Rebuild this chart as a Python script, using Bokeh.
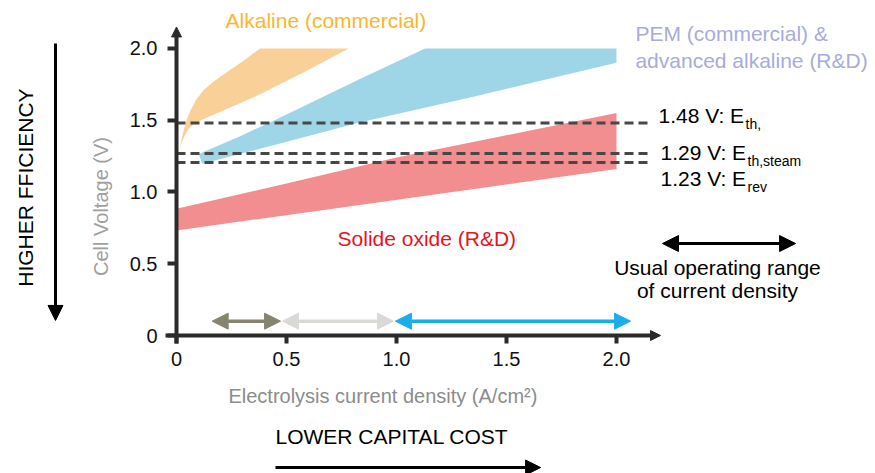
from math import pi
from bokeh.plotting import figure
from bokeh.models import Label, Arrow, NormalHead, FixedTicker, Range1d
from bokeh.embed import file_html
from bokeh.resources import INLINE

FONT = "Liberation Sans"

# ---------------- data ----------------
x_ticks = [0, 0.5, 1, 1.5, 2]
x_tick_labels = ["0", "0.5", "1.0", "1.5", "2.0"]
y_ticks = [0, 0.5, 1, 1.5, 2]
y_tick_labels = ["0", "0.5", "1.0", "1.5", "2.0"]

# Alkaline (commercial) band
alk_upper_x = [0.011, 0.022, 0.033, 0.048, 0.064, 0.09, 0.124, 0.165, 0.215, 0.30, 0.38, 0.783]
alk_upper_y = [1.277, 1.36, 1.43, 1.51, 1.57, 1.645, 1.71, 1.765, 1.82, 1.91, 2.0, 2.0]
alk_lower_x = [0.011, 0.02, 0.033, 0.055, 0.079, 0.139, 0.351, 0.579, 0.783]
alk_lower_y = [1.277, 1.33, 1.38, 1.44, 1.475, 1.52, 1.66, 1.835, 2.0]

# PEM & advanced alkaline band
pem_upper_x = [0.101, 0.276, 0.427, 0.836, 1.13, 2.0]
pem_upper_y = [1.265, 1.38, 1.486, 1.79, 2.0, 2.0]
pem_lower_x = [0.101, 0.117, 0.45, 0.836, 1.34, 2.0]
pem_lower_y = [1.265, 1.196, 1.33, 1.486, 1.66, 1.90]

# Solid oxide band
soec_upper_x = [0.0, 0.5, 1.0, 2.0]
soec_upper_y = [0.883, 1.06, 1.24, 1.55]
soec_lower_x = [0.0, 2.0]
soec_lower_y = [0.732, 1.16]

# reference voltage lines
ref_levels = [1.48, 1.268, 1.205]
ref_x_end = 2.145

# usual operating ranges of current density (A/cm2)
range_start = [0.162, 0.482, 0.995]
range_end = [0.473, 0.986, 2.064]
range_colors = ["#86836F", "#D9D9D6", "#19ADEB"]

# ---------------- figure ----------------
# frame covers the whole canvas; axes are pinned at x=0 / y=0
p = figure(width=875, height=473, x_range=Range1d(-0.8, 3.17727), y_range=Range1d(-0.96167, 2.33449),
           output_backend="svg", toolbar_location=None, title=None,
           min_border=0)
p.outline_line_color = None
p.xgrid.visible = False
p.ygrid.visible = False
p.background_fill_color = "white"
p.border_fill_color = "white"

AX = "#2b2b2b"
for ax, ticks, labels, tout in ((p.xaxis, x_ticks, x_tick_labels, 8), (p.yaxis, y_ticks, y_tick_labels, 9)):
    ax.fixed_location = 0
    ax.ticker = FixedTicker(ticks=ticks)
    ax.major_label_overrides = dict(zip(ticks, labels))
    ax.axis_line_color = None
    ax.major_tick_line_color = AX
    ax.major_tick_line_width = 4
    ax.major_tick_out = tout
    ax.major_tick_in = 0
    ax.minor_tick_line_color = None
    ax.major_label_text_font = FONT
    ax.major_label_text_font_size = "20px"
    ax.major_label_text_color = "#111111"
p.xaxis.major_label_standoff = 8
p.yaxis.major_label_standoff = 10

def band(ux, uy, lx, ly, color):
    xs = list(ux) + list(reversed(lx))
    ys = list(uy) + list(reversed(ly))
    p.patch(xs, ys, fill_color=color, line_color=None)

band(alk_upper_x, alk_upper_y, alk_lower_x, alk_lower_y, "#F9D098")
band(pem_upper_x, pem_upper_y, pem_lower_x, pem_lower_y, "#9FD6E7")
band(soec_upper_x, soec_upper_y, soec_lower_x, soec_lower_y, "#F28E90")

p.segment(x0=[0] * len(ref_levels), x1=[ref_x_end] * len(ref_levels), y0=ref_levels, y1=ref_levels,
          line_color="#474747", line_width=3, line_dash="9 5")

# axis lines with arrow heads
p.add_layout(Arrow(end=NormalHead(size=10, fill_color=AX, line_color=AX), start=None,
                   x_start=-0.05, y_start=0, x_end=2.2, y_end=0, line_color=AX, line_width=4))
p.add_layout(Arrow(end=NormalHead(size=10, fill_color=AX, line_color=AX), start=None,
                   x_start=0, y_start=-0.055, x_end=0, y_end=2.15, line_color=AX, line_width=4))

# operating range arrows
for s, e, c in zip(range_start, range_end, range_colors):
    p.add_layout(Arrow(start=NormalHead(size=16, fill_color=c, line_color=c),
                       end=NormalHead(size=16, fill_color=c, line_color=c),
                       x_start=s, y_start=0.1, x_end=e, y_end=0.1, line_color=c, line_width=3.5))

# legend-like double arrow
p.add_layout(Arrow(start=NormalHead(size=16, fill_color="black", line_color="black"),
                   end=NormalHead(size=16, fill_color="black", line_color="black"),
                   x_start=2.209, y_start=0.641, x_end=2.814, y_end=0.641, line_color="black", line_width=3))

# efficiency / cost arrows
p.add_layout(Arrow(end=NormalHead(size=15, fill_color="black", line_color="black"), start=None,
                   x_start=-0.55, y_start=2.035, x_end=-0.55, y_end=0.105, line_color="black", line_width=3))
p.add_layout(Arrow(end=NormalHead(size=15, fill_color="black", line_color="black"), start=None,
                   x_start=0.45, y_start=-0.92, x_end=1.655, y_end=-0.92, line_color="black", line_width=3))

def label(x, y, text, color="black", size="21px", align="left", angle=0, xo=0, yo=0):
    p.add_layout(Label(x=x, y=y, text=text, text_color=color, text_font=FONT, text_font_size=size,
                       text_align=align, text_baseline="middle", angle=angle, x_offset=xo, y_offset=yo))

label(0.223, 2.195, "Alkaline (commercial)", color="#FBB62C")
label(2.086, 2.105, "PEM (commercial) &", color="#A8ABDB")
label(2.086, 1.916, "advanced alkaline (R&D)", color="#A8ABDB")
label(0.732, 0.676, "Solide oxide (R&D)", color="#E8141C")

label(2.191, 1.533, "1.48 V: E")
label(2.191, 1.533, "th,", size="14px", xo=87, yo=-8)
label(2.2, 1.275, "1.29 V: E")
label(2.2, 1.275, "th,steam", size="14px", xo=87, yo=-8)
label(2.2, 1.094, "1.23 V: E")
label(2.2, 1.094, "rev", size="14px", xo=87, yo=-8)

label(2.459, 0.474, "Usual operating range", align="center")
label(2.459, 0.314, "of current density", align="center")

label(-0.345, 0.899, "Cell Voltage (V)", color="#A0A0A0", size="20px", align="center", angle=pi / 2)
label(0.236, -0.425, "Electrolysis current density (A/cm²)", color="#8C8C8C", size="20px")
label(-0.686, 1.031, "HIGHER FFICIENCY", align="center", angle=pi / 2)
label(0.45, -0.704, "LOWER CAPITAL COST")

open("out.html", "w").write(file_html(p, INLINE))
